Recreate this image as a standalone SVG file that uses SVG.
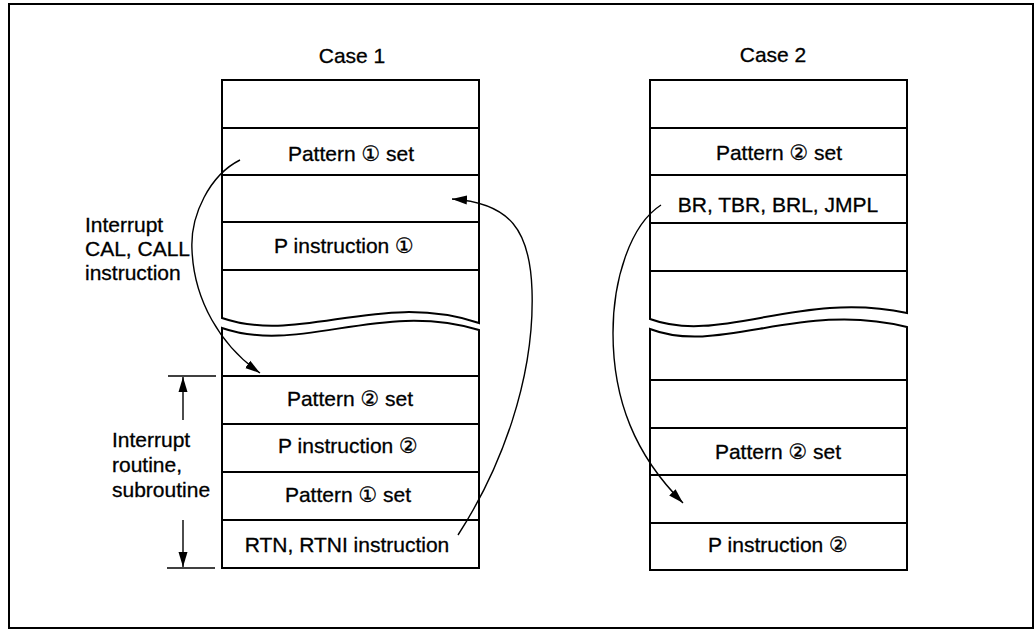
<svg xmlns="http://www.w3.org/2000/svg" width="1036" height="632" viewBox="0 0 1036 632">
<style>
.bx{fill:none;stroke:#000;stroke-width:2}
.ln{stroke:#000;stroke-width:2}
.t{font-family:"Liberation Sans","DejaVu Sans",Arial,sans-serif;font-size:21px;fill:#000;stroke:#000;stroke-width:0.3}
.m{text-anchor:middle}
.c{fill:none;stroke:#000;stroke-width:1.4}
.d{stroke:#000;stroke-width:1.4}
</style>
<defs>
<marker id="ah" markerUnits="userSpaceOnUse" markerWidth="16" markerHeight="10" refX="15" refY="5" orient="auto">
<path d="M0,0.5 L15,5 L0,9.5 Z" fill="#000"/>
</marker>
</defs>
<rect x="9" y="4" width="1024" height="624" fill="#fff" stroke="#000" stroke-width="2"/>

<text class="t m" x="352" y="63">Case 1</text>
<text class="t m" x="773" y="62">Case 2</text>

<g id="case1">
<path class="bx" d="M222,318 V80 H479 V323 C380,290 300,345 222,318 Z"/>
<path class="bx" d="M222,328 C300,355 380,300 479,330 V568 H222 Z"/>
<g id="c1-r1"><line class="ln" x1="222" y1="128" x2="479" y2="128"/></g>
<g id="c1-r2"><text class="t m" x="351" y="161">Pattern ① set</text><line class="ln" x1="222" y1="175" x2="479" y2="175"/></g>
<g id="c1-r3"><line class="ln" x1="222" y1="222" x2="479" y2="222"/></g>
<g id="c1-r4"><text class="t m" x="344" y="253">P instruction ①</text><line class="ln" x1="222" y1="270" x2="479" y2="270"/></g>
<g id="c1-r5"><line class="ln" x1="222" y1="376" x2="479" y2="376"/></g>
<g id="c1-r6"><text class="t m" x="350" y="406">Pattern ② set</text><line class="ln" x1="222" y1="424" x2="479" y2="424"/></g>
<g id="c1-r7"><text class="t m" x="348" y="453">P instruction ②</text><line class="ln" x1="222" y1="472" x2="479" y2="472"/></g>
<g id="c1-r8"><text class="t m" x="348" y="502">Pattern ① set</text><line class="ln" x1="222" y1="520" x2="479" y2="520"/></g>
<g id="c1-r9"><text class="t m" x="347" y="552">RTN, RTNI instruction</text></g>
</g>

<g id="case2">
<path class="bx" d="M650,319 V80 H907 V313 C800,290 720,345 650,319 Z"/>
<path class="bx" d="M650,329 C720,356 800,300 907,327 V570 H650 Z"/>
<g id="c2-r1"><line class="ln" x1="650" y1="128" x2="907" y2="128"/></g>
<g id="c2-r2"><text class="t m" x="779" y="160">Pattern ② set</text><line class="ln" x1="650" y1="175" x2="907" y2="175"/></g>
<g id="c2-r3"><text class="t m" x="778" y="212">BR, TBR, BRL, JMPL</text><line class="ln" x1="650" y1="223" x2="907" y2="223"/></g>
<g id="c2-r4"><line class="ln" x1="650" y1="271" x2="907" y2="271"/></g>
<g id="c2-r5"><line class="ln" x1="650" y1="380" x2="907" y2="380"/></g>
<g id="c2-r6"><line class="ln" x1="650" y1="428" x2="907" y2="428"/></g>
<g id="c2-r7"><text class="t m" x="778" y="459">Pattern ② set</text><line class="ln" x1="650" y1="475" x2="907" y2="475"/></g>
<g id="c2-r8"><line class="ln" x1="650" y1="523" x2="907" y2="523"/></g>
<g id="c2-r9"><text class="t m" x="778" y="552">P instruction ②</text></g>
</g>

<g id="label-call">
<text class="t" x="85" y="232">Interrupt</text>
<text class="t" x="85" y="256">CAL, CALL</text>
<text class="t" x="85" y="280">instruction</text>
</g>

<g id="label-routine">
<text class="t" x="112" y="447">Interrupt</text>
<text class="t" x="112" y="472">routine,</text>
<text class="t" x="112" y="497">subroutine</text>
</g>

<g id="connectors">
<path class="c" d="M240,160 C210,175 190,215 192,250 C194,300 220,345 260,373" marker-end="url(#ah)"/>
<path class="c" d="M458,535 C500,470 535,380 532,290 C530,230 510,203 452,199" marker-end="url(#ah)"/>
<path class="c" d="M661,205 C630,225 613,280 613,333 C613,400 635,455 683,503" marker-end="url(#ah)"/>
<line class="d" x1="168" y1="376" x2="216" y2="376"/>
<line class="d" x1="167" y1="568" x2="215" y2="568"/>
<line class="d" x1="183" y1="420" x2="183" y2="377" marker-end="url(#ah)"/>
<line class="d" x1="183" y1="520" x2="183" y2="567" marker-end="url(#ah)"/>
</g>
</svg>
